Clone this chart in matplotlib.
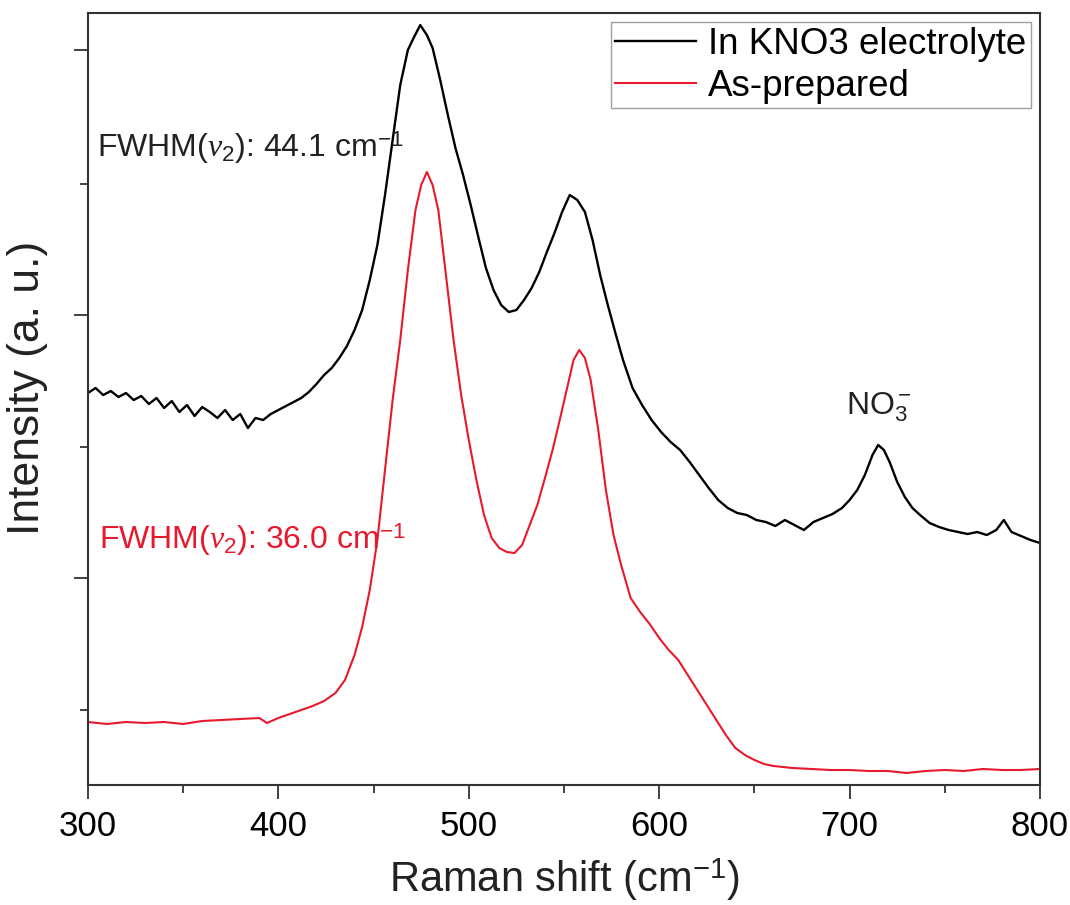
import matplotlib
matplotlib.use("Agg")
from matplotlib import pyplot as plt

plt.rcParams['font.family'] = ['Liberation Sans', 'DejaVu Sans']
plt.rcParams['mathtext.fontset'] = 'custom'
plt.rcParams['mathtext.rm'] = 'Liberation Sans'
plt.rcParams['mathtext.it'] = 'Liberation Serif:italic'

# Raman spectra (intensity in arbitrary units)
kno3_shift = [300, 304, 308, 312, 316, 320, 324, 328, 332, 336, 340, 344, 348, 352,
              356, 360, 364, 368, 372, 376, 380, 384, 388, 392, 396, 400, 404, 408,
              412, 416, 420, 424, 428, 432, 436, 440, 444, 448, 452, 456, 460, 464,
              468, 471, 474.5, 478, 481, 485, 489, 493, 497, 501, 505, 509, 513, 517,
              521, 525, 529, 533, 537, 541, 545, 549, 553, 557, 561, 565, 569, 573,
              577, 581, 586, 591, 596, 601, 606, 611, 616, 621, 626, 631, 636, 641,
              646, 651, 656, 661, 666, 671, 676, 681, 686, 691, 696, 700, 704, 708,
              712, 715, 718, 721, 725, 729, 733, 737, 742, 747, 752, 757, 762, 767,
              772, 777, 781, 785, 790, 795, 800]
kno3_int = [392, 397, 390, 394, 388, 392, 385, 389, 381, 387, 377, 384, 373, 380,
            369, 378, 373, 367, 375, 365, 371, 357, 367, 365, 371, 375, 379, 383,
            387, 393, 401, 410, 417, 427, 439, 455, 475, 505, 540, 590, 645, 700,
            735, 747, 760, 750, 737, 705, 670, 637, 610, 580, 548, 517, 495, 480,
            473, 475, 485, 497, 513, 533, 552, 573, 590, 585, 573, 545, 510, 480,
            452, 425, 397, 380, 365, 353, 343, 335, 323, 310, 297, 285, 277, 272,
            270, 265, 263, 259, 265, 260, 255, 263, 267, 271, 277, 285, 295, 310,
            330, 340, 335, 323, 303, 288, 277, 270, 262, 258, 255, 253, 251, 253,
            250, 255, 265, 253, 249, 245, 242]

asprep_shift = [300, 310, 320, 330, 340, 350, 360, 370, 380, 390, 394, 400, 406, 412,
                418, 424, 430, 435, 440, 444, 448, 452, 456, 460, 464, 468, 472, 475,
                478, 481, 484, 488, 492, 496, 500, 504, 508, 512, 516, 520, 524, 528,
                532, 536, 540, 544, 548, 552, 555, 558, 561, 564, 568, 572, 576, 580,
                585, 590, 595, 600, 605, 610, 615, 620, 625, 630, 635, 640, 645, 650,
                655, 660, 670, 680, 690, 700, 710, 720, 730, 740, 750, 760, 770, 780,
                790, 800]
asprep_int = [63, 61, 63, 62, 63, 61, 64, 65, 66, 67, 62, 67, 71, 75,
              79, 84, 92, 105, 130, 158, 195, 245, 315, 385, 445, 515, 575, 600,
              613, 600, 575, 510, 445, 390, 345, 305, 270, 247, 237, 233, 232, 240,
              260, 280, 307, 335, 367, 400, 425, 435, 427, 405, 355, 295, 250, 220,
              187, 173, 161, 147, 135, 125, 110, 95, 80, 65, 50, 37, 30, 25,
              21, 19, 17, 16, 15, 15, 14, 14, 12, 14, 15, 14, 16, 15,
              15, 16]

red = '#e8192c'

fig = plt.figure(figsize=(10.7, 9.05), dpi=100)
ax = fig.add_axes([0.0822, 0.1326, 0.8898, 0.853])

ax.plot(kno3_shift, kno3_int, color='black', lw=1.7, label='In KNO3 electrolyte')
ax.plot(asprep_shift, asprep_int, color=red, lw=1.5, label='As-prepared')

ax.set_xlim(300, 800)
ax.set_ylim(0, 772)
ax.set_xticks([300, 400, 500, 600, 700, 800])
ax.set_xticks([350, 450, 550, 650, 750], minor=True)
ax.set_yticks([207, 470, 735])
ax.set_yticks([75, 338, 601], minor=True)
ax.set_yticklabels([])

for s in ax.spines.values():
    s.set_linewidth(1.5)
    s.set_color('#333333')
ax.tick_params(which='major', length=10, width=1.3, color='#333333', labelsize=25, pad=8)
ax.tick_params(which='minor', length=5.5, width=1.3, color='#333333')

ax.set_xlabel('Raman shift (cm$^{-1}$)', fontsize=30, labelpad=10, color='#222222')
ax.set_ylabel('Intensity (a. u.)', fontsize=32, color='#222222')
ax.yaxis.set_label_coords(-0.042, 0.515)

ax.text(304.5, 637, r'FWHM($\nu_2$): 44.1 cm$^{-1}$', fontsize=23, color='#222222',
        va='center', ha='left')
ax.text(306, 245, r'FWHM($\nu_2$): 36.0 cm$^{-1}$', fontsize=23, color=red,
        va='center', ha='left')
ax.text(715.5, 378, r'NO$_3^-$', fontsize=23, color='#222222', va='center', ha='center')

leg = ax.legend(loc='upper right', fontsize=26.5, frameon=True, fancybox=False,
                borderpad=0.12, handlelength=2.2, handletextpad=0.33, labelspacing=0.2,
                borderaxespad=0.25)
leg.get_frame().set_edgecolor('#888888')
leg.get_frame().set_linewidth(1.0)

fig.savefig('out.png', dpi=100)
